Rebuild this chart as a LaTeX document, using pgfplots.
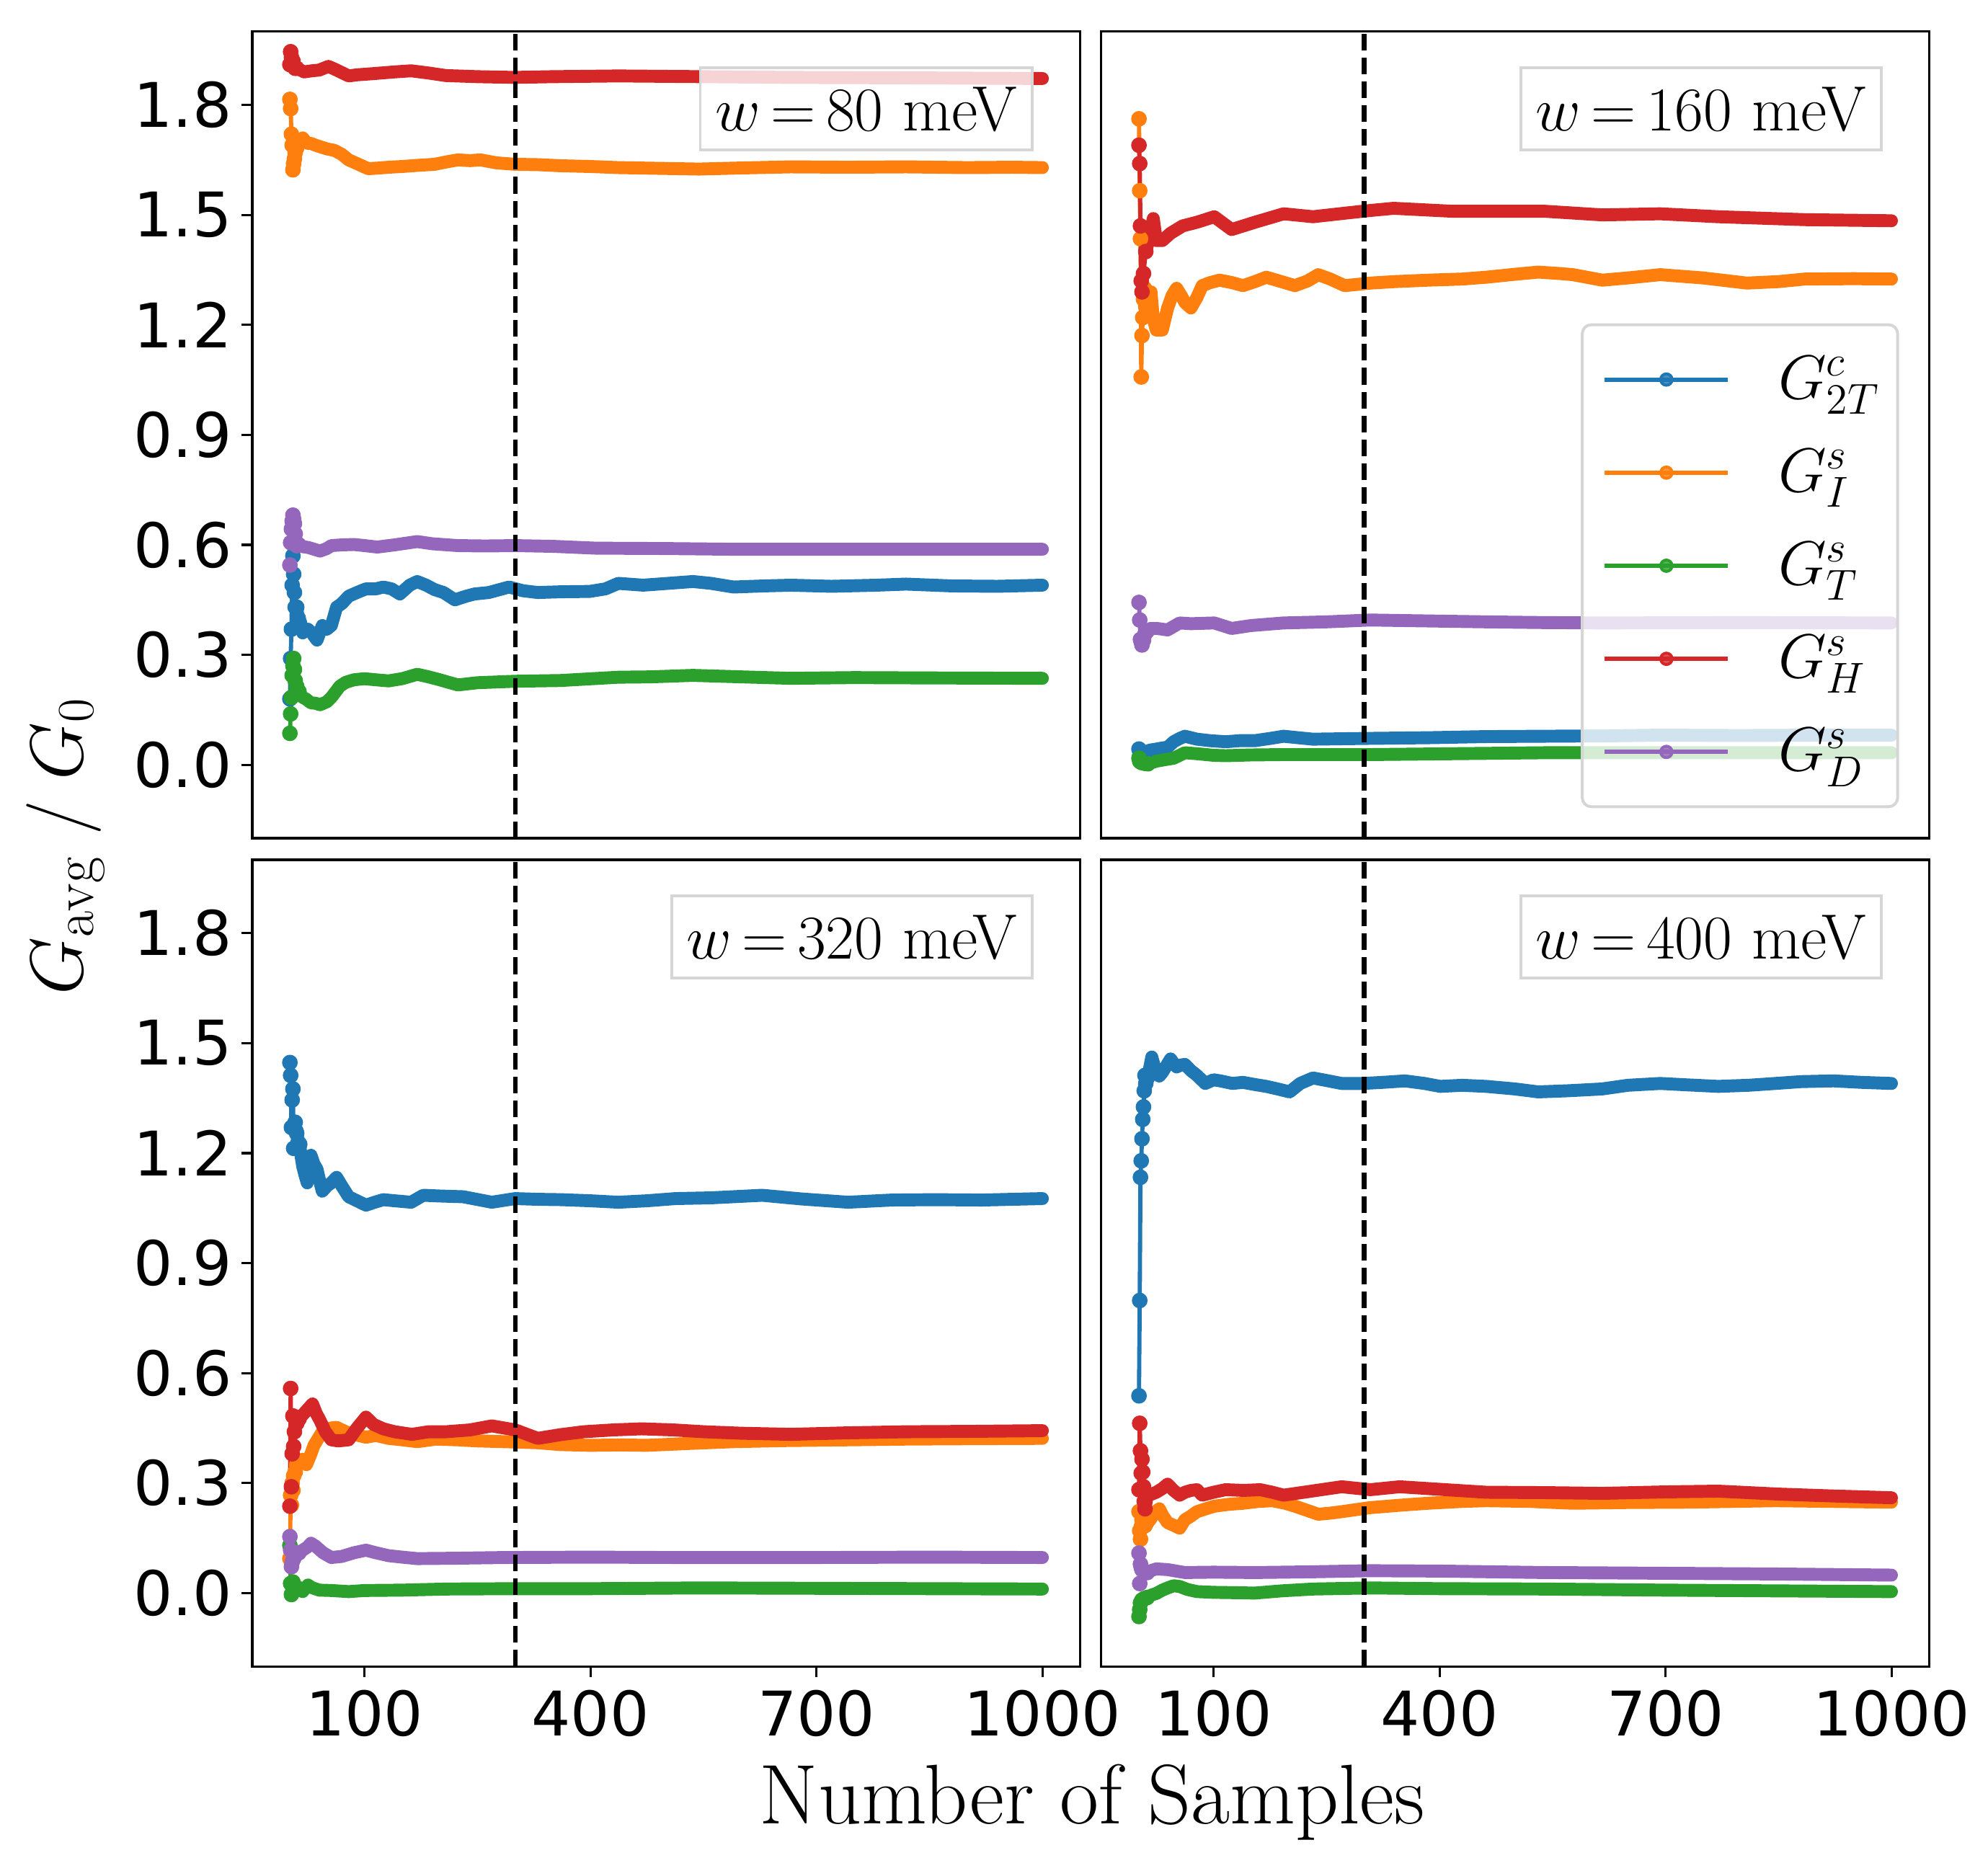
\documentclass[border=0pt]{standalone}
\usepackage{fontspec}
\usepackage{pgfplots}
\pgfplotsset{compat=1.18}
\newfontfamily\dejavu{DejaVu Sans}
\definecolor{tabblue}{HTML}{1F77B4}
\definecolor{taborange}{HTML}{FF7F0E}
\definecolor{tabgreen}{HTML}{2CA02C}
\definecolor{tabred}{HTML}{D62728}
\definecolor{tabpurple}{HTML}{9467BD}
\newcommand{\tickfont}{\dejavu\fontsize{20.5}{24}\selectfont}
\tikzset{
  anno/.style={draw=black!16, line width=0.95pt, fill=white, fill opacity=0.8, text opacity=1,
    inner xsep=5pt, inner ysep=6.4pt, text height=14.6pt, text depth=0pt,
    font=\fontsize{21.3}{25}\selectfont, anchor=north east, xshift=-15.4pt, yshift=-11.5pt},
}
\pgfplotsset{
  panel/.style={
    scale only axis, width=275.6pt, height=268.6pt,
    xmin=-48.95, xmax=1049.95, ymin=-0.2, ymax=2.0,
    line width=0.75pt,
    tick align=outside, major tick length=3.6pt, tick pos=left,
    every tick/.style={black, line width=0.75pt},
    xtick={100,400,700,1000}, xticklabels={100,400,700,1000},
    ytick={0,0.3,0.6,0.9,1.2,1.5,1.8},
    yticklabels={0.0,0.3,0.6,0.9,1.2,1.5,1.8},
    xticklabel style={font=\tickfont, inner sep=0pt, yshift=-4.0pt},
    yticklabel style={font=\tickfont, inner sep=0pt, xshift=-2.9pt},
  },
  band/.style={line width=4.3pt, line join=round, line cap=round, mark=none},
  early/.style={line width=1.4pt, line join=round, mark=*, mark size=1.9pt, mark options={solid, draw=none}},
  dotline/.style={legend image code/.code={
    \draw[line width=1.4pt] (7.5pt,0pt) -- (48.5pt,0pt);
    \fill (28pt,0pt) circle (1.9pt);
    \path[draw=none, fill=none] (0pt,-15.5pt) rectangle (65.3pt,15.5pt);
  }},
}
\newcommand{\series}[3][8]{%
  \addplot[#2, band, restrict x to domain=#1:1100, forget plot] coordinates {#3};
  \addplot[#2, early, restrict x to domain=0:14, forget plot] coordinates {#3};
}
\newcommand{\markline}{%
  \addplot[black, line width=1.5pt, dash pattern=on 5.55pt off 2.4pt, forget plot] coordinates {(300,-0.2) (300,2.0)};
}
\begin{document}
\begin{tikzpicture}[x=1pt,y=1pt]
% ---------------- upper left: w = 80 meV
\begin{axis}[panel, at={(84pt,608.2pt)}, anchor=north west, xtick=\empty]
\series{tabblue}{(1,0.18)(2,0.29)(3,0.37)(4,0.49)(5,0.57)(6,0.52)(7,0.47)(8,0.43)(10,0.43)(12,0.40)(15,0.39)(18,0.36)(22,0.37)(25,0.37)(30,0.36)(37,0.34)(44,0.38)(50,0.37)(56,0.38)(63,0.43)(70,0.44)(79,0.46)(90,0.47)(102,0.48)(115,0.48)(125,0.485)(136,0.48)(147,0.466)(160,0.49)(170,0.50)(182,0.49)(193,0.478)(205,0.47)(220,0.45)(235,0.46)(246,0.466)(265,0.47)(292,0.485)(310,0.475)(330,0.47)(360,0.472)(399,0.473)(420,0.48)(437,0.495)(470,0.49)(536,0.50)(560,0.495)(590,0.485)(630,0.488)(666,0.49)(720,0.487)(780,0.49)(819,0.493)(880,0.488)(940,0.487)(1000,0.49)}
\series{taborange}{(1,1.815)(2,1.79)(3,1.72)(4,1.69)(5,1.623)(6,1.64)(7,1.653)(8,1.67)(10,1.683)(12,1.70)(15,1.705)(18,1.71)(22,1.70)(25,1.695)(29,1.695)(35,1.69)(41,1.686)(50,1.68)(60,1.676)(70,1.665)(79,1.65)(90,1.64)(105,1.626)(120,1.628)(132,1.63)(150,1.632)(170,1.635)(193,1.638)(210,1.645)(224,1.65)(240,1.648)(254,1.65)(275,1.642)(300,1.638)(330,1.637)(361,1.634)(400,1.632)(437,1.629)(490,1.627)(544,1.625)(600,1.628)(666,1.631)(740,1.63)(819,1.631)(900,1.629)(960,1.63)(1000,1.629)}
\series{tabgreen}{(1,0.086)(2,0.139)(3,0.184)(4,0.244)(5,0.27)(6,0.29)(7,0.26)(8,0.23)(10,0.214)(13,0.20)(15,0.19)(18,0.184)(22,0.18)(29,0.169)(35,0.168)(41,0.164)(50,0.172)(56,0.184)(62,0.20)(67,0.214)(75,0.225)(86,0.232)(100,0.235)(115,0.232)(132,0.229)(150,0.235)(170,0.247)(185,0.24)(200,0.232)(210,0.226)(224,0.218)(250,0.224)(300,0.228)(360,0.23)(437,0.239)(480,0.24)(536,0.244)(600,0.24)(666,0.236)(750,0.238)(850,0.237)(1000,0.236)}
\series{tabred}{(1,1.91)(2,1.945)(3,1.93)(4,1.915)(5,1.92)(6,1.905)(8,1.90)(10,1.90)(15,1.895)(20,1.89)(30,1.893)(40,1.895)(52,1.905)(60,1.898)(70,1.888)(79,1.879)(90,1.882)(110,1.885)(140,1.89)(162,1.893)(185,1.887)(208,1.88)(250,1.877)(299,1.875)(350,1.877)(437,1.879)(550,1.877)(666,1.875)(800,1.874)(1000,1.872)}
\series{tabpurple}{(1,0.545)(2,0.606)(3,0.643)(4,0.665)(5,0.681)(6,0.67)(7,0.658)(8,0.63)(10,0.598)(13,0.60)(18,0.595)(25,0.593)(30,0.59)(41,0.583)(50,0.59)(56,0.598)(70,0.60)(86,0.601)(100,0.598)(117,0.594)(140,0.60)(170,0.609)(190,0.603)(224,0.598)(260,0.597)(300,0.598)(350,0.596)(407,0.591)(500,0.59)(590,0.588)(700,0.588)(850,0.588)(1000,0.588)}
\markline
\node[anno] at (rel axis cs:1,1) {$w\mkern3mu{=}\mkern3mu80$ meV};
\end{axis}
% ---------------- upper right: w = 160 meV
\begin{axis}[panel, at={(366.7pt,608.2pt)}, anchor=north west, xtick=\empty, ytick=\empty,
  legend cell align=left,
  legend style={at={(rel axis cs:1,0)}, anchor=south east, xshift=-10pt, yshift=10pt,
    draw=black!16, line width=0.95pt, fill=white, fill opacity=0.8, draw opacity=1, text opacity=1,
    rounded corners=3pt, inner xsep=0pt, inner ysep=2.75pt, row sep=0pt, column sep=0pt,
    nodes={inner sep=0pt}, font=\fontsize{20.5}{24}\selectfont}]
\series{tabblue}{(1,0.043)(2,0.025)(3,0.03)(5,0.035)(9,0.033)(15,0.04)(24,0.043)(32,0.046)(39,0.048)(47,0.063)(55,0.072)(62,0.078)(70,0.074)(78,0.07)(95,0.066)(116,0.063)(135,0.066)(155,0.066)(175,0.072)(193,0.078)(212,0.074)(232,0.07)(300,0.072)(385,0.074)(460,0.077)(539,0.078)(620,0.079)(693,0.081)(800,0.08)(900,0.081)(1000,0.081)}
\series{taborange}{(1,1.762)(2,1.566)(3,1.435)(4,1.058)(5,1.171)(6,1.22)(7,1.27)(8,1.30)(10,1.25)(12,1.246)(15,1.26)(17,1.29)(20,1.216)(24,1.186)(32,1.186)(39,1.246)(45,1.28)(51,1.30)(57,1.28)(62,1.261)(70,1.246)(78,1.275)(85,1.307)(95,1.315)(108,1.322)(125,1.315)(139,1.307)(155,1.318)(170,1.33)(190,1.318)(208,1.307)(225,1.32)(239,1.337)(255,1.325)(274,1.307)(308,1.314)(340,1.318)(385,1.322)(430,1.325)(462,1.33)(500,1.338)(531,1.344)(560,1.34)(577,1.337)(616,1.322)(650,1.328)(693,1.337)(750,1.328)(808,1.314)(850,1.318)(885,1.325)(950,1.326)(1000,1.325)}
\series{tabgreen}{(1,0.018)(2,0.01)(3,0.008)(5,0.006)(9,0.004)(13,0.003)(18,0.006)(24,0.01)(35,0.014)(47,0.018)(55,0.026)(62,0.033)(80,0.03)(100,0.026)(116,0.025)(150,0.027)(193,0.028)(250,0.028)(308,0.028)(400,0.03)(539,0.033)(700,0.033)(850,0.033)(1000,0.033)}
\series{tabred}{(1,1.69)(2,1.64)(3,1.47)(4,1.32)(5,1.29)(7,1.34)(10,1.40)(15,1.44)(20,1.49)(24,1.43)(32,1.43)(43,1.45)(59,1.47)(78,1.48)(101,1.495)(124,1.46)(155,1.48)(193,1.503)(232,1.495)(298,1.51)(339,1.518)(416,1.51)(539,1.51)(616,1.50)(693,1.503)(770,1.495)(885,1.487)(1000,1.484)}
\series{tabpurple}{(1,0.443)(2,0.395)(3,0.342)(4,0.335)(5,0.327)(7,0.34)(9,0.357)(12,0.365)(16,0.372)(25,0.372)(39,0.368)(55,0.387)(70,0.385)(101,0.387)(124,0.372)(150,0.38)(193,0.387)(250,0.39)(308,0.395)(400,0.392)(462,0.39)(540,0.388)(616,0.387)(800,0.388)(1000,0.387)}
\markline
\node[anno] at (rel axis cs:1,1) {$w\mkern3mu{=}\mkern3mu160$ meV};
\addlegendimage{tabblue, dotline}
\addlegendentry{\makebox[39.7pt][l]{$G^{c}_{2T}$}}
\addlegendimage{taborange, dotline}
\addlegendentry{\makebox[39.7pt][l]{$G^{s}_{I}$}}
\addlegendimage{tabgreen, dotline}
\addlegendentry{\makebox[39.7pt][l]{$G^{s}_{T}$}}
\addlegendimage{tabred, dotline}
\addlegendentry{\makebox[39.7pt][l]{$G^{s}_{H}$}}
\addlegendimage{tabpurple, dotline}
\addlegendentry{\makebox[39.7pt][l]{$G^{s}_{D}$}}
\end{axis}
% ---------------- lower left: w = 320 meV
\begin{axis}[panel, at={(84pt,332.4pt)}, anchor=north west]
\series{tabblue}{(1,1.447)(2,1.412)(3,1.27)(4,1.345)(5,1.375)(6,1.213)(7,1.27)(8,1.284)(9,1.26)(10,1.254)(12,1.23)(14,1.224)(16,1.19)(18,1.164)(21,1.14)(24,1.119)(27,1.17)(29,1.194)(33,1.17)(37,1.156)(41,1.12)(44,1.096)(50,1.11)(56,1.119)(63,1.134)(70,1.11)(79,1.081)(90,1.07)(102,1.058)(112,1.065)(125,1.073)(140,1.07)(162,1.066)(178,1.085)(200,1.083)(231,1.081)(269,1.066)(300,1.076)(330,1.074)(361,1.073)(400,1.07)(437,1.066)(475,1.07)(513,1.076)(560,1.078)(628,1.085)(680,1.075)(742,1.066)(800,1.072)(857,1.073)(920,1.072)(1000,1.076)}
\series{taborange}{(1,0.094)(2,0.267)(3,0.24)(4,0.30)(5,0.28)(6,0.32)(8,0.33)(10,0.35)(14,0.36)(18,0.365)(23,0.35)(29,0.38)(33,0.403)(38,0.42)(44,0.44)(55,0.45)(63,0.452)(75,0.44)(86,0.433)(102,0.425)(115,0.43)(132,0.422)(150,0.418)(170,0.413)(195,0.42)(224,0.418)(250,0.415)(285,0.413)(330,0.41)(360,0.405)(399,0.403)(440,0.404)(475,0.403)(530,0.408)(590,0.413)(660,0.416)(742,0.418)(820,0.42)(900,0.421)(1000,0.422)}
\series{tabgreen}{(1,0.13)(2,0.026)(3,-0.004)(4,0.02)(5,0.03)(7,0.02)(10,0.015)(14,0.01)(18,0.004)(25,0.022)(30,0.015)(40,0.008)(56,0.007)(79,0.004)(100,0.007)(150,0.008)(208,0.011)(300,0.012)(400,0.012)(544,0.014)(700,0.013)(850,0.012)(1000,0.011)}
\series{tabred}{(1,0.237)(2,0.558)(3,0.29)(4,0.38)(5,0.483)(6,0.40)(7,0.44)(8,0.48)(10,0.463)(13,0.475)(18,0.486)(24,0.50)(31,0.516)(36,0.49)(41,0.471)(48,0.44)(56,0.418)(65,0.415)(79,0.418)(90,0.45)(102,0.48)(112,0.46)(125,0.448)(140,0.44)(163,0.433)(185,0.44)(208,0.44)(240,0.445)(269,0.456)(300,0.445)(330,0.422)(360,0.432)(391,0.44)(430,0.445)(468,0.448)(510,0.445)(551,0.44)(600,0.436)(666,0.433)(740,0.437)(819,0.44)(900,0.441)(1000,0.443)}
\series{tabpurple}{(1,0.154)(2,0.117)(3,0.072)(4,0.085)(6,0.094)(9,0.105)(13,0.11)(18,0.117)(24,0.125)(29,0.136)(35,0.128)(45,0.11)(56,0.097)(70,0.1)(86,0.11)(102,0.117)(115,0.11)(132,0.102)(150,0.098)(170,0.094)(220,0.095)(285,0.097)(400,0.098)(513,0.097)(700,0.097)(850,0.098)(1000,0.097)}
\markline
\node[anno] at (rel axis cs:1,1) {$w\mkern3mu{=}\mkern3mu320$ meV};
\end{axis}
% ---------------- lower right: w = 400 meV
\begin{axis}[panel, at={(366.7pt,332.4pt)}, anchor=north west, ytick=\empty]
\series[10]{tabblue}{(1,0.538)(2,0.798)(3,1.134)(4,1.179)(5,1.239)(6,1.292)(7,1.326)(8,1.37)(9,1.412)(10,1.39)(12,1.405)(15,1.43)(18,1.462)(21,1.44)(24,1.427)(28,1.41)(32,1.42)(38,1.44)(43,1.457)(47,1.445)(51,1.435)(56,1.44)(62,1.442)(70,1.425)(78,1.412)(89,1.39)(100,1.40)(109,1.397)(125,1.39)(139,1.393)(155,1.387)(170,1.382)(185,1.375)(201,1.367)(215,1.39)(232,1.405)(250,1.398)(270,1.39)(298,1.39)(325,1.393)(354,1.397)(380,1.39)(401,1.382)(430,1.385)(462,1.382)(500,1.375)(531,1.367)(570,1.37)(616,1.375)(650,1.385)(693,1.39)(730,1.386)(770,1.382)(810,1.385)(846,1.39)(880,1.395)(923,1.397)(960,1.393)(1000,1.39)}
\series{taborange}{(1,0.222)(2,0.17)(3,0.147)(4,0.18)(5,0.2)(7,0.19)(9,0.184)(12,0.195)(16,0.2)(22,0.22)(28,0.23)(33,0.21)(39,0.192)(47,0.185)(55,0.177)(62,0.2)(70,0.21)(78,0.222)(90,0.23)(101,0.237)(120,0.242)(139,0.245)(160,0.25)(178,0.252)(195,0.245)(208,0.237)(225,0.225)(239,0.215)(255,0.218)(270,0.222)(308,0.233)(350,0.24)(385,0.245)(430,0.25)(462,0.252)(520,0.25)(577,0.245)(650,0.247)(731,0.248)(790,0.25)(846,0.252)(920,0.25)(1000,0.248)}
\series{tabgreen}{(1,-0.064)(2,-0.045)(3,-0.027)(5,-0.019)(8,-0.015)(12,-0.012)(18,-0.005)(24,-0.001)(32,0.008)(39,0.014)(47,0.02)(55,0.018)(65,0.01)(78,0.004)(100,0.002)(130,0.001)(155,0.0)(190,0.006)(232,0.011)(308,0.014)(400,0.012)(539,0.011)(700,0.008)(850,0.006)(1000,0.004)}
\series{tabred}{(1,0.282)(2,0.463)(3,0.388)(4,0.327)(5,0.365)(6,0.33)(7,0.29)(8,0.25)(9,0.23)(12,0.267)(18,0.27)(24,0.275)(32,0.285)(39,0.297)(47,0.28)(55,0.267)(62,0.275)(70,0.28)(78,0.282)(85,0.267)(100,0.275)(116,0.282)(140,0.28)(162,0.282)(178,0.275)(193,0.267)(230,0.278)(270,0.29)(308,0.282)(347,0.29)(400,0.283)(462,0.275)(540,0.274)(616,0.272)(700,0.276)(770,0.278)(850,0.27)(920,0.265)(1000,0.26)}
\series{tabpurple}{(1,0.109)(2,0.026)(3,0.079)(4,0.07)(5,0.064)(8,0.058)(12,0.056)(18,0.062)(24,0.066)(39,0.064)(62,0.056)(100,0.057)(155,0.056)(230,0.058)(308,0.061)(400,0.06)(539,0.056)(700,0.054)(850,0.052)(1000,0.049)}
\markline
\node[anno] at (rel axis cs:1,1) {$w\mkern3mu{=}\mkern3mu400$ meV};
\end{axis}
% ---------------- shared labels
\node[anchor=base, font=\fontsize{28.2}{33}\selectfont] at (363.6pt,11.5pt) {Number of Samples};
\node[rotate=90, anchor=base, font=\fontsize{27}{32}\selectfont] at (27.4pt,337pt) {$G_{\mathrm{avg}}\;/\;G_0$};
\pgfresetboundingbox
\path[use as bounding box] (0pt,0pt) rectangle (661.92pt,618.72pt);
\end{tikzpicture}
\end{document}
